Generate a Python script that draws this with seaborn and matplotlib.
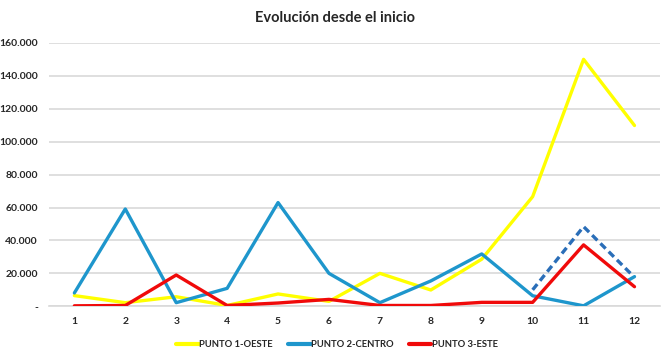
import matplotlib
matplotlib.use("Agg")
import matplotlib.pyplot as plt
import matplotlib.ticker as mticker
from matplotlib.lines import Line2D
import seaborn as sns
import pandas as pd

meses = [1, 2, 3, 4, 5, 6, 7, 8, 9, 10, 11, 12]
punto1_oeste = [6500, 2200, 5800, 500, 7500, 3000, 20000, 9900, 28600, 66600, 150000, 109800]
punto2_centro = [8100, 59100, 2200, 10900, 63000, 20000, 2200, 15400, 31800, 6400, 300, 18000]
punto3_este = [300, 500, 19000, 500, 2000, 4200, 500, 500, 2400, 2400, 37300, 11900]
proyeccion_x = [10, 11, 12]
proyeccion_centro = [10000, 48400, 17600]
series_names = ["PUNTO 1-OESTE", "PUNTO 2-CENTRO", "PUNTO 3-ESTE"]
colors = ["#FFFF00", "#1E96CC", "#F00A0A"]

sns.set_theme(style="white")
plt.rcParams['font.family'] = ['Lato', 'DejaVu Sans']

df = pd.DataFrame({
    "mes": meses * 3,
    "valor": punto1_oeste + punto2_centro + punto3_este,
    "serie": [series_names[0]] * 12 + [series_names[1]] * 12 + [series_names[2]] * 12,
})
df_proj = pd.DataFrame({"mes": proyeccion_x, "valor": proyeccion_centro})

fig = plt.figure(figsize=(6.7, 3.57), dpi=100)
ax = fig.add_axes([0.073, 0.142, 0.912, 0.738])

sns.lineplot(data=df, x="mes", y="valor", hue="serie", hue_order=series_names,
             palette=colors, linewidth=2.4, ax=ax, legend=False, zorder=3)
sns.lineplot(data=df_proj, x="mes", y="valor", color="#2A6EB8", linewidth=2.4,
             linestyle=(0, (2.2, 1.3)), ax=ax, legend=False, zorder=2)

ax.set_xlim(0.5, 12.5)
ax.set_ylim(0, 160000)
ax.set_xticks(meses)
ax.set_xticklabels([str(m) for m in meses])
ax.set_yticks(range(0, 160001, 20000))
ax.yaxis.set_major_formatter(mticker.FuncFormatter(
    lambda v, p: "-" if v == 0 else f"{int(v):,}".replace(",", ".")))
ax.grid(axis="y", color="#D9D9D9", linewidth=1.2)
ax.set_axisbelow(True)
for s in ["top", "right", "left"]:
    ax.spines[s].set_visible(False)
ax.spines["bottom"].set_color("#D9D9D9")
ax.spines["bottom"].set_linewidth(1.2)
ax.tick_params(axis="both", length=0, labelsize=7.5, pad=8)
for lbl in ax.get_xticklabels() + ax.get_yticklabels():
    lbl.set_fontweight("bold")
ax.set_xlabel("")
ax.set_ylabel("")

fig.text(0.5, 0.95, "Evolución desde el inicio", ha="center", va="center",
         fontsize=10.5, fontweight="bold")

handles = [Line2D([0], [0], color=c, linewidth=3) for c in colors]
leg = fig.legend(handles, series_names, loc="center", bbox_to_anchor=(0.503, 0.035),
                 ncol=3, frameon=False, handlelength=2.4, handletextpad=0.05,
                 columnspacing=1.6, prop={"size": 6.8, "weight": "bold"})

fig.savefig("out.png", dpi=100)
